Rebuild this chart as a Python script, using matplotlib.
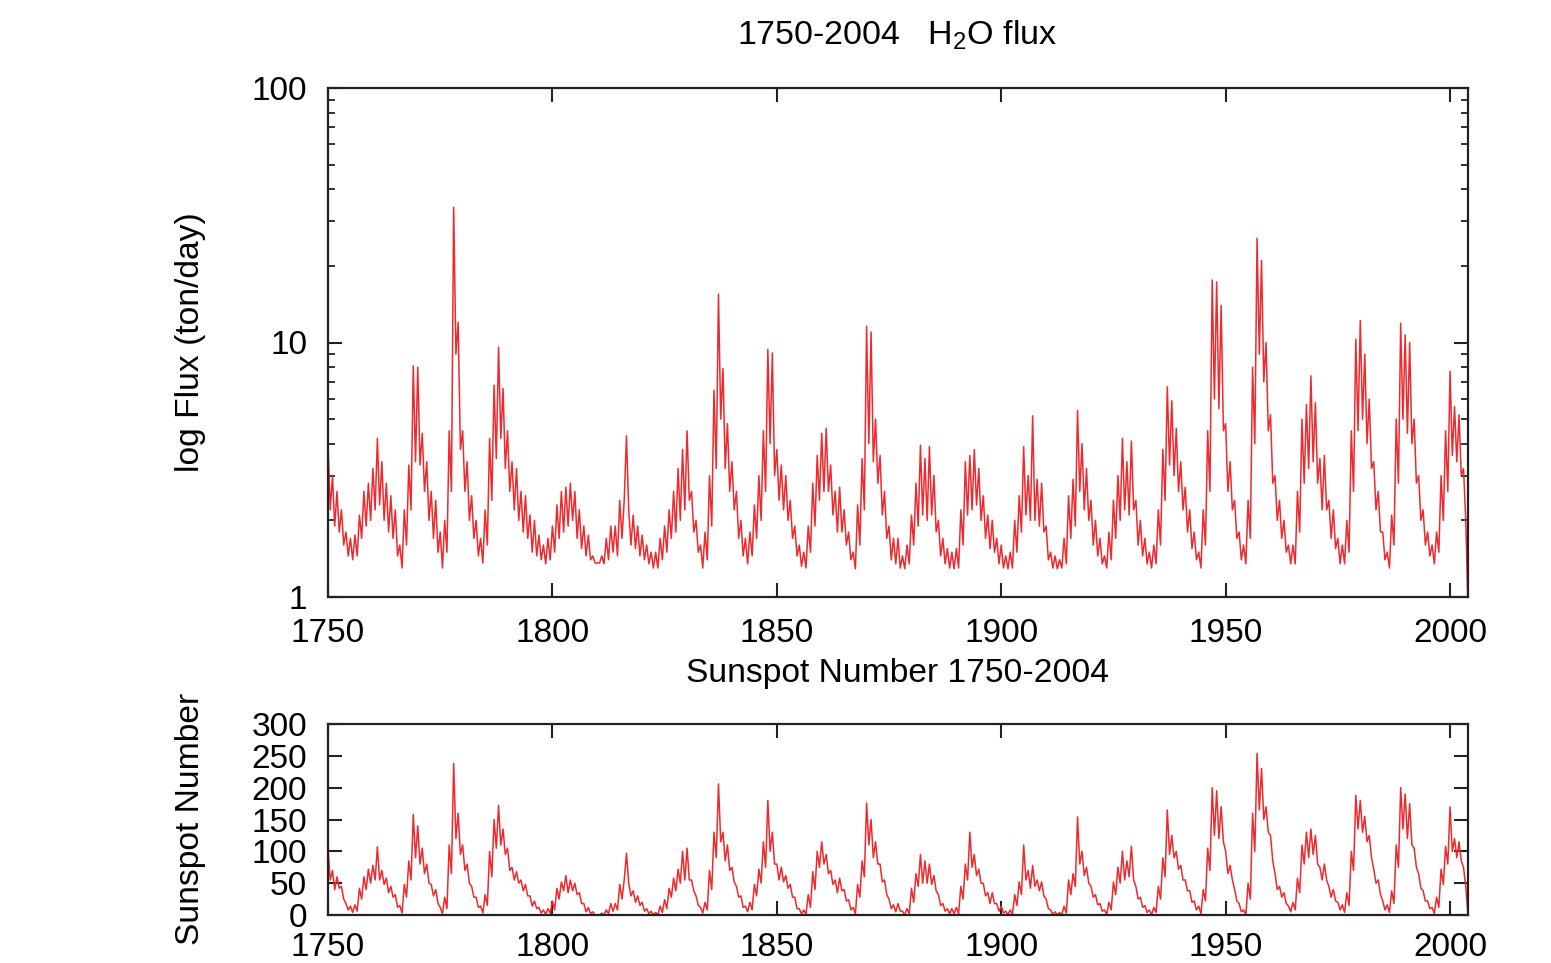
import numpy as np
import matplotlib
matplotlib.use('Agg')
import matplotlib.pyplot as plt
from matplotlib.ticker import LogLocator, NullFormatter

# half-year values, 1750.0 .. 2003.5, last point at 2004.0
sunspot = [
    105, 55, 70, 40, 60, 42, 45, 25, 18, 8, 14, 4, 16, 6, 42, 25, 60, 40, 72, 50,              # 1750s
    78, 55, 107, 55, 70, 48, 58, 35, 45, 28, 32, 12, 15, 3, 48, 28, 85, 55, 158, 90,           # 1760s
    140, 80, 105, 65, 80, 50, 48, 30, 40, 18, 12, 2, 28, 10, 110, 65, 238, 120, 160, 95,       # 1770s
    110, 70, 80, 50, 45, 28, 28, 12, 14, 3, 32, 15, 100, 60, 150, 105, 172, 110, 135, 95,      # 1780s
    105, 70, 75, 55, 68, 50, 55, 38, 48, 30, 30, 14, 22, 10, 12, 3, 8, 1, 10, 3,               # 1790s
    22, 8, 42, 25, 52, 38, 62, 35, 55, 38, 50, 32, 35, 18, 18, 5, 12, 2, 5, 0,                 # 1800s
    0, 0, 3, 0, 8, 2, 18, 6, 18, 8, 48, 25, 55, 97, 50, 30, 38, 20, 30, 15,                    # 1810s
    20, 6, 10, 2, 6, 0, 4, 0, 14, 4, 24, 10, 42, 28, 58, 38, 72, 50, 100, 55,                  # 1820s
    105, 55, 55, 38, 30, 15, 12, 3, 20, 8, 70, 40, 130, 90, 206, 115, 130, 85, 110, 70,        # 1830s
    75, 52, 45, 28, 30, 12, 14, 5, 20, 8, 48, 30, 72, 50, 115, 75, 180, 100, 130, 80,          # 1840s
    80, 55, 75, 52, 62, 42, 48, 28, 28, 10, 10, 2, 8, 1, 32, 12, 68, 40, 100, 75,              # 1850s
    115, 80, 95, 65, 70, 48, 55, 35, 58, 38, 40, 22, 24, 8, 12, 2, 48, 28, 85, 60,             # 1860s
    176, 110, 150, 90, 115, 80, 80, 52, 55, 32, 25, 10, 16, 5, 18, 6, 6, 0, 10, 2,             # 1870s
    42, 20, 65, 45, 95, 50, 85, 50, 80, 48, 62, 38, 32, 15, 18, 6, 10, 2, 10, 2,               # 1880s
    12, 2, 45, 25, 80, 55, 130, 75, 95, 62, 72, 50, 50, 30, 35, 18, 35, 18, 18, 6,             # 1890s
    14, 3, 6, 0, 8, 1, 32, 15, 52, 32, 110, 55, 70, 42, 78, 45, 55, 38, 52, 30,                # 1900s
    25, 10, 8, 1, 5, 0, 4, 0, 14, 3, 55, 32, 65, 45, 154, 80, 100, 62, 75, 50,                 # 1910s
    45, 28, 32, 16, 18, 6, 8, 1, 20, 8, 52, 32, 75, 50, 100, 55, 85, 60, 108, 55,              # 1920s
    45, 25, 28, 12, 15, 4, 8, 0, 12, 4, 45, 25, 90, 60, 165, 95, 125, 90, 100, 72,             # 1930s
    78, 55, 55, 38, 38, 20, 22, 8, 14, 2, 40, 22, 105, 70, 200, 125, 195, 120, 170, 115,       # 1940s
    100, 65, 78, 55, 40, 22, 18, 5, 8, 0, 50, 25, 160, 100, 254, 165, 230, 150, 170, 130,      # 1950s
    125, 85, 65, 40, 45, 28, 35, 18, 14, 5, 20, 8, 58, 35, 110, 80, 130, 90, 135, 95,          # 1960s
    125, 80, 75, 55, 80, 55, 45, 28, 40, 22, 20, 8, 16, 4, 35, 15, 100, 70, 188, 135,          # 1970s
    180, 130, 155, 115, 125, 90, 72, 50, 55, 32, 22, 8, 16, 4, 38, 18, 110, 75, 200, 135,      # 1980s
    190, 120, 175, 110, 105, 75, 65, 42, 38, 22, 22, 10, 12, 2, 28, 12, 72, 48, 108, 80,       # 1990s
    170, 100, 120, 90, 115, 85, 75, 45, 0,                                                     # 2000s
]

flux = [
    4.0, 2.2, 3.0, 1.9, 2.6, 1.8, 2.2, 1.6, 1.8, 1.45, 1.7, 1.4, 1.75, 1.45, 2.1, 1.7, 2.6, 1.9, 2.8, 2.0,
    3.2, 2.2, 4.2, 2.3, 3.4, 2.0, 2.8, 1.8, 2.5, 1.7, 2.2, 1.45, 1.6, 1.3, 2.2, 1.6, 3.3, 2.2, 8.1, 3.4,
    8.0, 3.3, 4.4, 2.6, 3.4, 2.0, 2.6, 1.7, 2.4, 1.5, 1.8, 1.3, 2.0, 1.5, 4.5, 2.6, 34.0, 9.0, 12.0, 3.8,
    4.5, 2.6, 3.4, 2.0, 2.5, 1.7, 2.0, 1.45, 1.7, 1.36, 2.2, 1.6, 4.2, 2.4, 6.8, 3.5, 9.6, 4.2, 6.6, 3.2,
    4.5, 2.6, 3.4, 2.2, 3.2, 2.0, 2.6, 1.8, 2.5, 1.7, 2.1, 1.5, 2.0, 1.45, 1.75, 1.4, 1.6, 1.35, 1.7, 1.4,
    1.9, 1.5, 2.3, 1.7, 2.6, 1.8, 2.7, 1.9, 2.8, 2.0, 2.6, 1.7, 2.2, 1.55, 1.9, 1.45, 1.75, 1.4, 1.45, 1.36,
    1.36, 1.36, 1.45, 1.35, 1.7, 1.4, 1.9, 1.5, 1.9, 1.45, 2.4, 1.7, 2.4, 4.3, 2.2, 1.6, 2.1, 1.55, 1.9, 1.45,
    1.75, 1.4, 1.6, 1.35, 1.5, 1.3, 1.5, 1.3, 1.7, 1.4, 1.9, 1.5, 2.2, 1.7, 2.6, 1.8, 3.2, 2.0, 3.8, 2.2,
    4.5, 2.4, 2.6, 1.8, 2.0, 1.5, 1.6, 1.3, 1.8, 1.4, 3.0, 1.9, 6.5, 3.2, 15.5, 5.0, 7.9, 3.2, 4.8, 2.6,
    3.4, 2.2, 2.6, 1.7, 2.0, 1.45, 1.7, 1.35, 1.8, 1.45, 2.3, 1.7, 3.0, 2.0, 4.5, 2.6, 9.4, 4.0, 9.1, 3.0,
    3.8, 2.4, 3.3, 2.2, 3.0, 2.0, 2.4, 1.7, 1.9, 1.45, 1.6, 1.32, 1.5, 1.3, 1.9, 1.5, 2.8, 1.9, 3.6, 2.4,
    4.4, 2.6, 4.6, 2.6, 3.3, 2.1, 2.6, 1.8, 2.7, 1.8, 2.2, 1.6, 1.8, 1.4, 1.5, 1.29, 2.3, 1.6, 3.5, 2.2,
    11.6, 4.0, 11.0, 3.4, 5.0, 2.8, 3.6, 2.1, 2.6, 1.7, 1.9, 1.4, 1.7, 1.35, 1.7, 1.3, 1.45, 1.29, 1.6, 1.35,
    2.1, 1.6, 2.8, 1.9, 3.95, 2.1, 3.5, 2.0, 3.9, 2.1, 3.0, 1.8, 2.0, 1.45, 1.7, 1.35, 1.55, 1.3, 1.5, 1.29,
    1.55, 1.3, 2.2, 1.6, 3.4, 2.1, 3.6, 2.2, 3.8, 2.3, 3.2, 2.0, 2.5, 1.7, 2.1, 1.55, 2.0, 1.5, 1.7, 1.35,
    1.6, 1.3, 1.45, 1.29, 1.5, 1.3, 2.0, 1.5, 2.5, 1.8, 3.9, 2.1, 3.0, 2.0, 5.15, 2.0, 2.9, 1.9, 2.8, 1.8,
    1.9, 1.4, 1.5, 1.3, 1.45, 1.29, 1.4, 1.3, 1.7, 1.35, 2.5, 1.7, 2.9, 1.9, 5.4, 2.6, 4.0, 2.2, 3.2, 2.0,
    2.4, 1.6, 2.0, 1.45, 1.7, 1.35, 1.45, 1.3, 1.8, 1.4, 2.4, 1.7, 3.0, 2.0, 4.2, 2.2, 3.4, 2.1, 4.1, 2.2,
    2.4, 1.6, 2.0, 1.45, 1.7, 1.35, 1.5, 1.3, 1.6, 1.35, 2.2, 1.6, 3.8, 2.4, 6.7, 3.3, 5.9, 3.0, 4.6, 2.6,
    3.4, 2.2, 2.7, 1.8, 2.2, 1.55, 1.8, 1.4, 1.5, 1.3, 2.2, 1.6, 4.5, 2.6, 17.6, 6.0, 17.3, 5.5, 14.0, 4.5,
    4.8, 2.6, 3.4, 2.2, 2.4, 1.7, 1.8, 1.4, 1.6, 1.35, 2.4, 1.7, 8.0, 4.0, 25.7, 9.0, 21.0, 7.0, 10.0, 4.5,
    5.2, 2.8, 3.0, 2.0, 2.4, 1.7, 2.0, 1.5, 1.6, 1.35, 1.6, 1.35, 2.6, 1.8, 5.0, 2.8, 5.7, 3.2, 7.4, 3.4,
    5.8, 2.8, 3.5, 2.2, 3.6, 2.2, 2.4, 1.7, 2.2, 1.55, 1.7, 1.35, 1.6, 1.35, 2.0, 1.5, 4.5, 2.6, 10.3, 4.5,
    12.2, 5.0, 9.0, 4.0, 6.0, 3.2, 3.4, 2.2, 2.6, 1.8, 1.8, 1.4, 1.5, 1.3, 2.1, 1.6, 5.0, 2.8, 11.9, 5.0,
    10.7, 4.4, 10.0, 4.0, 5.0, 2.8, 3.0, 2.0, 2.2, 1.6, 1.8, 1.45, 1.6, 1.35, 1.8, 1.5, 3.0, 2.0, 4.5, 2.6,
    7.7, 3.6, 5.6, 3.4, 5.2, 3.0, 3.2, 2.0, 0.9,
]

year_ticks = [1750, 1800, 1850, 1900, 1950, 2000]
flux_ticks = [1, 10, 100]
flux_labels = ['1', '10', '100']
ssn_ticks = [0, 50, 100, 150, 200, 250, 300]

RED = '#EE2A2E'

plt.rcParams['font.family'] = ['Liberation Sans', 'DejaVu Sans']
plt.rcParams['mathtext.fontset'] = 'custom'
plt.rcParams['mathtext.rm'] = 'Liberation Sans'
plt.rcParams['mathtext.default'] = 'regular'

W, H = 1551, 963
fig = plt.figure(figsize=(W / 100, H / 100), dpi=100)
ax1 = fig.add_axes([328 / W, 1 - 597 / H, 1140 / W, 509 / H])
ax2 = fig.add_axes([328 / W, 1 - 915 / H, 1140 / W, 191 / H])

years = 1750 + 0.5 * np.arange(len(sunspot))

# top: water flux, log scale
ax1.plot(years, flux, color=RED, lw=1.1)
ax1.set_yscale('log')
ax1.set_ylim(1, 100)
ax1.set_xlim(1750, 2004)
ax1.set_yticks(flux_ticks)
ax1.set_yticklabels(flux_labels)
ax1.yaxis.set_minor_locator(LogLocator(base=10, subs=np.arange(2, 10)))
ax1.yaxis.set_minor_formatter(NullFormatter())
ax1.set_xticks(year_ticks)

# bottom: sunspot number
ax2.plot(years, sunspot, color=RED, lw=1.1)
ax2.set_ylim(0, 300)
ax2.set_xlim(1750, 2004)
ax2.set_yticks(ssn_ticks)
ax2.set_xticks(year_ticks)

for ax in (ax1, ax2):
    for sp in ax.spines.values():
        sp.set_linewidth(1.6)
        sp.set_color('#222222')
    ax.tick_params(which='major', direction='in', top=True, right=True,
                   length=10, width=1.5, labelsize=24, pad=15, color='#222222')
    ax.tick_params(which='minor', direction='in', top=True, right=True,
                   length=5, width=1.3, color='#222222')

# bottom year labels sit right at the lower edge of the figure
ax2.tick_params(axis='x', which='major', pad=12)

fig.text(897 / W, 1 - 35 / H, '1750-2004   H$_2$O flux', ha='center', va='center', fontsize=24.5)
fig.text(897 / W, 1 - 673 / H, 'Sunspot Number 1750-2004', ha='center', va='center', fontsize=24.2)
fig.text(190 / W, 1 - 342 / H, 'log Flux (ton/day)', rotation=90, ha='center', va='center', fontsize=24.2)
fig.text(190 / W, 1 - 819 / H, 'Sunspot Number', rotation=90, ha='center', va='center', fontsize=24.2)

fig.savefig('out.png', dpi=100)
